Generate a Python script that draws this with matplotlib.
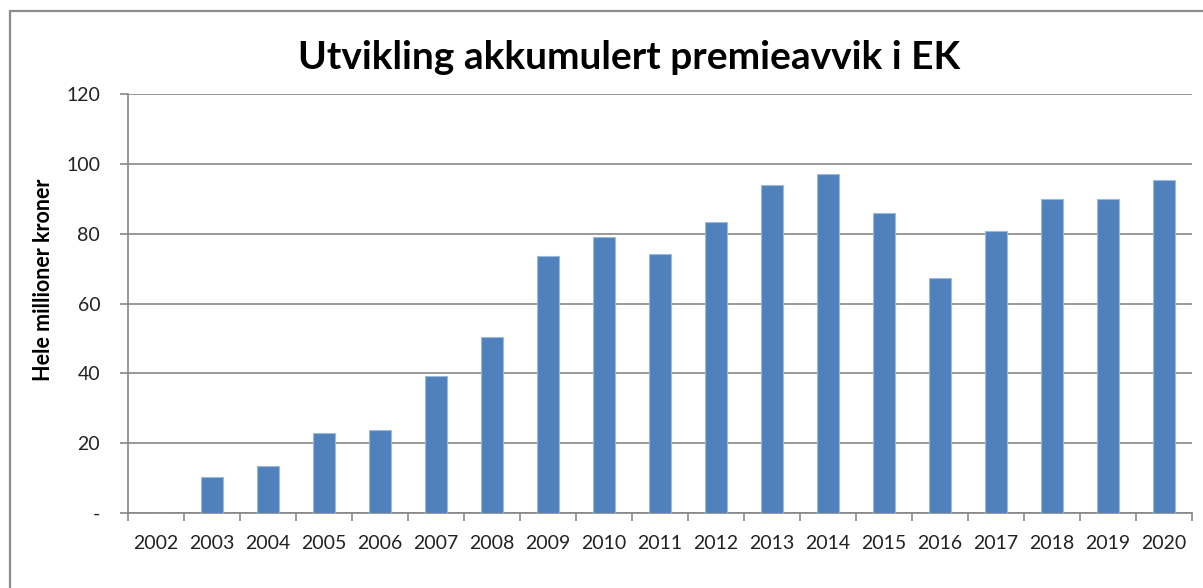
import matplotlib
matplotlib.use("Agg")
import matplotlib.pyplot as plt
from matplotlib.patches import Rectangle

# data
years = ["2002", "2003", "2004", "2005", "2006", "2007", "2008", "2009", "2010", "2011",
         "2012", "2013", "2014", "2015", "2016", "2017", "2018", "2019", "2020"]
values = [0, 10.4, 13.5, 22.9, 23.8, 39.2, 50.3, 73.6, 79.0, 74.1,
          83.2, 94.0, 97.1, 86.0, 67.4, 80.9, 90.0, 90.0, 95.5]
yticks = [0, 20, 40, 60, 80, 100, 120]
ytick_labels = ["-", "20", "40", "60", "80", "100", "120"]

plt.rcParams['font.family'] = ['Lato', 'DejaVu Sans']
grey = "#878787"

fig = plt.figure(figsize=(12.03, 5.88), dpi=100)
ax = fig.add_axes([128/1203, 1 - 513/588, (1192 - 128)/1203, (513 - 94)/588])

x = list(range(len(years)))
ax.bar(x, values, width=0.4, color="#4F81BD", edgecolor="#9DB9DE", linewidth=0.8, zorder=3)

ax.set_xlim(-0.5, len(years) - 0.5)
ax.set_ylim(0, 120)
ax.set_yticks(yticks)
ax.set_yticklabels(ytick_labels)
ax.set_xticks(x)
ax.set_xticklabels(years)
ax.set_xticks([i - 0.5 for i in range(len(years) + 1)], minor=True)

ax.grid(axis="y", color=grey, linewidth=1.2, zorder=0)
for s in ["top", "right"]:
    ax.spines[s].set_visible(False)
ax.spines["left"].set_color(grey)
ax.spines["bottom"].set_color(grey)
ax.spines["left"].set_linewidth(1.2)
ax.spines["bottom"].set_linewidth(1.2)

ax.tick_params(axis="y", direction="out", length=6, width=1.2, color=grey,
               labelsize=14, pad=14, labelcolor="#222222")
ax.tick_params(axis="x", which="major", length=0, labelsize=14, pad=16, labelcolor="#222222")
ax.tick_params(axis="x", which="minor", direction="out", length=6, width=1.2, color=grey)

fig.text(0.523, 0.903, "Utvikling akkumulert premieavvik i EK", ha="center", va="center",
         fontsize=28, fontweight="bold")
fig.text(0.036, 0.524, "Hele millioner kroner", rotation=90, ha="center", va="center",
         fontsize=15.5, fontweight="bold")

# outer chart frame
fig.patches.append(Rectangle((10/1203, -0.1), 1.2, 1.1 - 11/588, transform=fig.transFigure,
                             fill=False, edgecolor="#8c8c8c", linewidth=1.6))

fig.savefig("out.png", dpi=100)
